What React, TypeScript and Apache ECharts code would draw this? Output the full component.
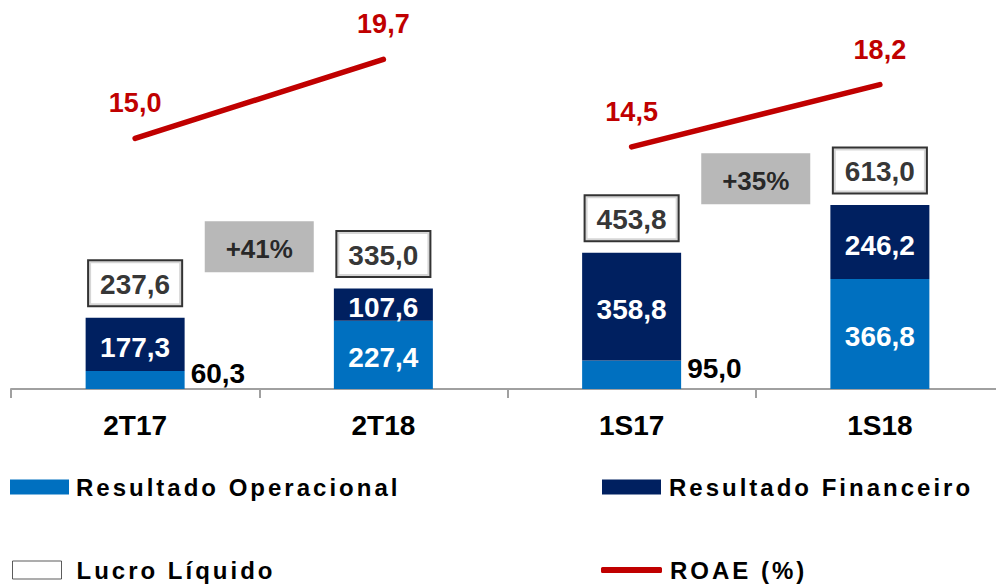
import React, { useEffect, useRef } from "react";
import * as echarts from "echarts";

const categories = ["2T17", "2T18", "1S17", "1S18"];
const resultadoOperacional = [60.3, 227.4, 95.0, 366.8];
const resultadoFinanceiro = [177.3, 107.6, 358.8, 246.2];
const lucroLiquido = [237.6, 335.0, 453.8, 613.0];
const roaeTrimestre = [15.0, 19.7, null, null];
const roaeSemestre = [null, null, 14.5, 18.2];
const growthLabels = ["+41%", "+35%"];
// anchors of the growth boxes: x in category-index units (between bars), y in bar-axis units
const growthAnchorX = [0.5, 2.5];
const growthAnchorY = [474, 701];
// indexes whose operational value is written outside, to the right of the bar
const outsideLabelIdx = [0, 2];

const FONT = "'Liberation Sans', Arial, Helvetica, sans-serif";
const fmt = (v: number) => v.toFixed(1).replace(".", ",");

export default function App() {
  const ref = useRef<HTMLDivElement>(null);

  useEffect(() => {
    document.body.style.margin = "0";
    document.documentElement.style.overflow = "hidden";
    document.body.style.overflow = "hidden";
    if (!ref.current) return;
    const chart = echarts.init(ref.current, null, { renderer: "svg" });

    const legendText = {
      fontFamily: FONT,
      fontSize: 24,
      fontWeight: "bold",
      color: "#000",
      lineHeight: 24,
    };

    const option: any = {
      animation: false,
      backgroundColor: "#fff",
      textStyle: { fontFamily: FONT },
      grid: { left: 11, top: 14, width: 993, height: 375, containLabel: false },
      xAxis: [
        {
          type: "category",
          data: categories,
          axisLine: { lineStyle: { color: "#A0A0A0", width: 2 } },
          axisTick: { show: true, length: 9, lineStyle: { color: "#A0A0A0", width: 2 } },
          axisLabel: {
            margin: 22,
            fontFamily: FONT,
            fontSize: 28,
            fontWeight: "bold",
            color: "#000",
          },
        },
        { type: "value", min: -0.5, max: 3.5, show: false },
      ],
      yAxis: [
        { type: "value", min: 0, max: 1250, show: false },
        { type: "value", min: 0.1, max: 22.4, show: false },
      ],
      legend: [
        {
          data: [{ name: "Resultado Operacional", icon: "rect" }],
          left: 10,
          top: 475,
          padding: 0,
          itemWidth: 59,
          itemHeight: 15,
          selectedMode: false,
          textStyle: { ...legendText, padding: [0, 0, 0, 2] },
        },
        {
          data: [{ name: "Resultado Financeiro", icon: "rect" }],
          left: 602,
          top: 475,
          padding: 0,
          itemWidth: 59,
          itemHeight: 15,
          selectedMode: false,
          textStyle: { ...legendText, padding: [0, 0, 0, 3] },
        },
        {
          data: [
            {
              name: "Lucro Líquido",
              icon: "rect",
              itemStyle: { color: "#fff", borderColor: "#333", borderWidth: 1 },
            },
          ],
          left: 12,
          top: 558,
          padding: 0,
          itemWidth: 49,
          itemHeight: 18,
          selectedMode: false,
          textStyle: { ...legendText, padding: [0, 0, 0, 10] },
        },
        {
          data: [{ name: "ROAE (%)", icon: "roundRect" }],
          left: 601,
          top: 558,
          padding: 0,
          itemWidth: 61,
          itemHeight: 6,
          selectedMode: false,
          textStyle: { ...legendText, padding: [0, 0, 0, 3] },
        },
      ],
      series: [
        {
          name: "Resultado Operacional",
          type: "bar",
          stack: "res",
          barWidth: 99,
          itemStyle: { color: "#0070C0" },
          label: {
            show: true,
            position: "inside",
            offset: [0, 3],
            formatter: (p: any) => fmt(p.value),
            fontFamily: FONT,
            fontSize: 28,
            fontWeight: "bold",
            color: "#fff",
          },
          data: resultadoOperacional.map((v, i) =>
            outsideLabelIdx.includes(i)
              ? {
                  value: v,
                  label: { position: "right", distance: 6, offset: [0, -6], color: "#000" },
                }
              : { value: v }
          ),
        },
        {
          name: "Resultado Financeiro",
          type: "bar",
          stack: "res",
          barWidth: 99,
          itemStyle: { color: "#002060" },
          label: {
            show: true,
            position: "inside",
            offset: [0, 3],
            formatter: (p: any) => fmt(p.value),
            fontFamily: FONT,
            fontSize: 28,
            fontWeight: "bold",
            color: "#fff",
          },
          data: resultadoFinanceiro,
        },
        {
          name: "Lucro Líquido",
          type: "scatter",
          symbol: "rect",
          symbolSize: 1,
          itemStyle: { color: "rgba(0,0,0,0)" },
          z: 5,
          label: {
            show: true,
            position: "top",
            distance: 12,
            formatter: (p: any) => fmt(p.value),
            fontFamily: FONT,
            fontSize: 28,
            fontWeight: "bold",
            color: "#000",
            lineHeight: 28,
            backgroundColor: "#fff",
            borderColor: "#000",
            borderWidth: 2,
            padding: [9, 11, 7, 11],
          },
          data: lucroLiquido,
        },
        ...[roaeTrimestre, roaeSemestre].map((d) => ({
          name: "ROAE (%)",
          type: "line",
          yAxisIndex: 1,
          data: d,
          symbol: "circle",
          symbolSize: 1,
          showSymbol: true,
          connectNulls: false,
          itemStyle: { color: "#C00000" },
          lineStyle: { color: "#C00000", width: 5.5, cap: "round" },
          z: 6,
          label: {
            show: true,
            position: "top",
            distance: 21,
            formatter: (p: any) => fmt(p.value),
            fontFamily: FONT,
            fontSize: 27,
            fontWeight: "bold",
            color: "#C00000",
          },
        })),
        {
          name: "Variação",
          type: "scatter",
          xAxisIndex: 1,
          yAxisIndex: 0,
          symbol: "rect",
          symbolSize: [109, 51],
          itemStyle: { color: "#A6A6A6" },
          z: 4,
          label: {
            show: true,
            position: "inside",
            offset: [0, 2],
            formatter: (p: any) => growthLabels[p.dataIndex],
            fontFamily: FONT,
            fontSize: 26,
            fontWeight: "bold",
            color: "#000",
          },
          data: growthAnchorX.map((x, i) => [x, growthAnchorY[i]]),
        },
      ],
    };

    chart.setOption(option);
    return () => chart.dispose();
  }, []);

  return (
    <>
      <style>{`.chart-root svg text[style*="24px"]{letter-spacing:3px;font-weight:700 !important}`}</style>
      <div className="chart-root" ref={ref} style={{ width: 1012, height: 586 }} />
    </>
  );
}
